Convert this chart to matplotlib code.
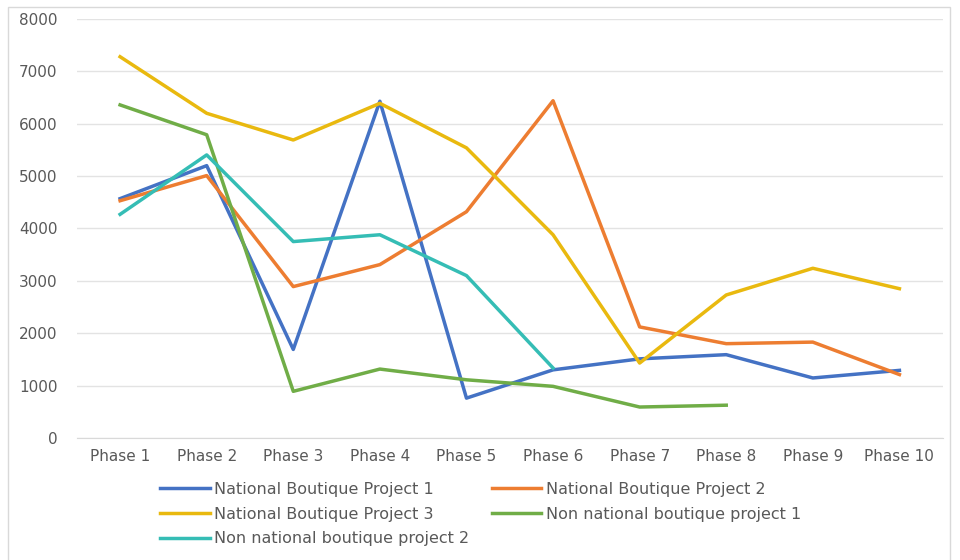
import matplotlib
matplotlib.use("Agg")
import matplotlib.pyplot as plt
import numpy as np
from matplotlib.patches import Rectangle

phases = ["Phase 1", "Phase 2", "Phase 3", "Phase 4", "Phase 5",
          "Phase 6", "Phase 7", "Phase 8", "Phase 9", "Phase 10"]

nbp1 = [4570, 5200, 1690, 6430, 760, 1300, 1510, 1590, 1145, 1290]
nbp2 = [4530, 5010, 2890, 3310, 4320, 6440, 2120, 1800, 1830, 1210]
nbp3 = [7280, 6200, 5690, 6390, 5540, 3880, 1430, 2730, 3240, 2850]
nnbp1 = [6360, 5790, 890, 1315, 1110, 985, 590, 625, None, None]
nnbp2 = [4270, 5405, 3750, 3880, 3100, 1335, None, None, None, None]

names = ["National Boutique Project 1", "National Boutique Project 2",
         "National Boutique Project 3", "Non national boutique project 1",
         "Non national boutique project 2"]
colors = ["#4472C4", "#ED7D31", "#E9B90F", "#70AD47", "#35BDB5"]

fig = plt.figure(figsize=(9.6, 5.6), dpi=100)
ax = fig.add_axes([0.080, 0.218, 0.902, 0.748])

x = np.arange(len(phases))
lines = []
for vals, name, c in zip([nbp1, nbp2, nbp3, nnbp1, nnbp2], names, colors):
	y = np.array([np.nan if v is None else v for v in vals], dtype=float)
	ln, = ax.plot(x, y, color=c, lw=2.5, label=name)
	lines.append(ln)

ax.set_xlim(-0.5, len(phases) - 0.5)
ax.set_ylim(0, 8000)
ax.set_yticks(np.arange(0, 8001, 1000))
ax.set_xticks(x)
ax.set_xticklabels(phases)
ax.grid(axis="y", color="#e3e3e3", lw=1)
ax.set_axisbelow(True)
for s in ["top", "right", "left"]:
	ax.spines[s].set_visible(False)
ax.spines["bottom"].set_color("#d9d9d9")
ax.tick_params(axis="both", length=0, colors="#595959", labelsize=11)
ax.tick_params(axis="x", pad=8)
ax.tick_params(axis="y", pad=14)

# row-major legend order like Excel
order = [0, 2, 4, 1, 3]
leg = fig.legend([lines[i] for i in order], [names[i] for i in order],
                 ncol=2, loc="upper left", frameon=False, fontsize=11.5,
                 handlelength=3.1, columnspacing=1.4, labelspacing=0.6,
                 handletextpad=0.3, borderaxespad=0, borderpad=0)
leg.set_bbox_to_anchor((160 / 960, 1 - 482 / 560), transform=fig.transFigure)
for t in leg.get_texts():
	t.set_color("#595959")

fig.patches.append(Rectangle((8 / 960, -0.01), 942 / 960, 1 - 7 / 560 + 0.01,
                             transform=fig.transFigure, fill=False,
                             edgecolor="#d9d9d9", lw=1))

fig.savefig("out.png", dpi=100)
